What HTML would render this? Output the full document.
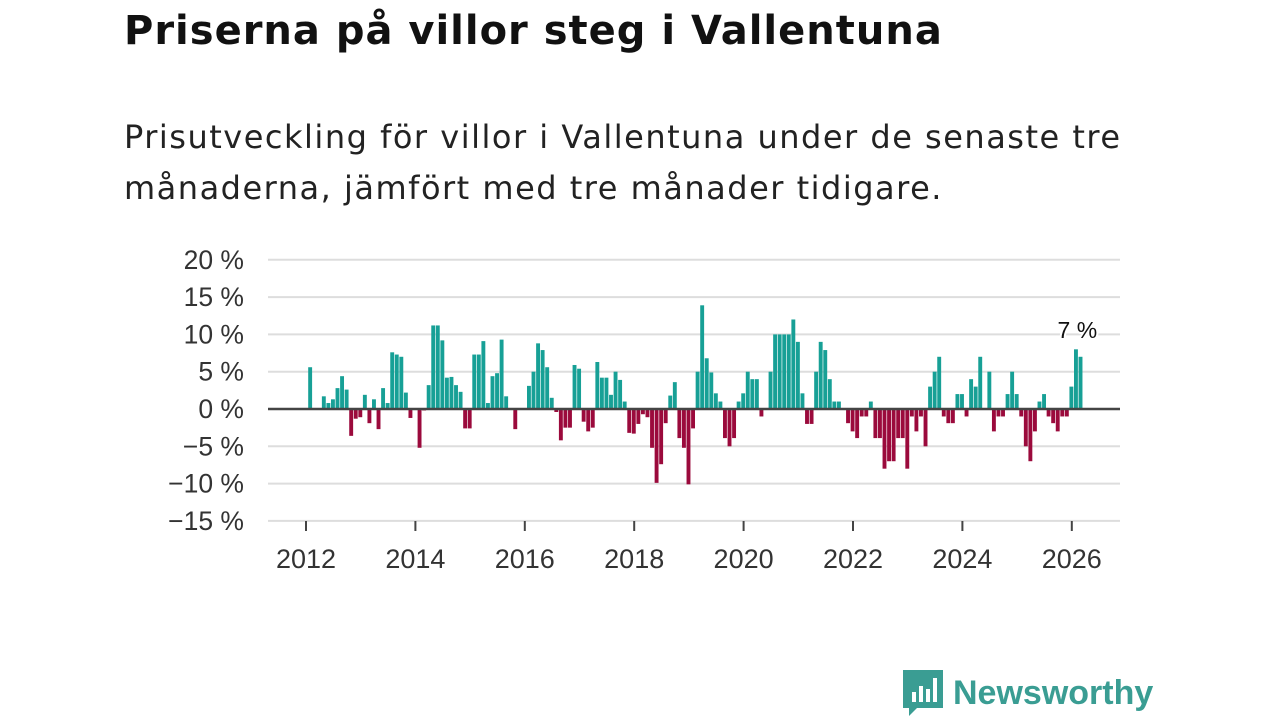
<!DOCTYPE html>
<html><head><meta charset="utf-8"><style>
body{margin:0;width:1280px;height:720px;background:#fff;font-family:"Liberation Sans",sans-serif;overflow:hidden;position:relative}
h1{position:absolute;left:124px;top:8px;margin:0;font-family:"DejaVu Sans",sans-serif;font-size:40px;font-weight:bold;color:#111;white-space:nowrap;letter-spacing:1px}
.sub{position:absolute;left:124px;top:112px;margin:0;font-family:"DejaVu Sans",sans-serif;font-size:32px;letter-spacing:1.5px;line-height:51px;color:#222;width:1050px}
</style></head><body>
<h1>Priserna på villor steg i Vallentuna</h1>
<p class="sub">Prisutveckling för villor i Vallentuna under de senaste tre månaderna, jämfört med tre månader tidigare.</p>
<svg id="chart" width="1280" height="720" style="position:absolute;left:0;top:0"></svg>
<div style="position:absolute;left:903px;top:670px;display:flex;align-items:center">
<svg width="40" height="46" viewBox="0 0 40 46"><path d="M0 0H40V38H14L6 46V38H0Z" fill="#3a9d93"/><rect x="9" y="22" width="4" height="10" fill="#fff"/><rect x="16" y="16" width="4" height="16" fill="#fff"/><rect x="23" y="19" width="4" height="13" fill="#fff"/><rect x="30" y="8" width="4" height="24" fill="#fff"/></svg>
<span style="font-size:34px;font-weight:bold;color:#3a9d93;margin-left:10px">Newsworthy</span></div>
<script>
const values=[5.6,0,0,1.7,0.8,1.3,2.8,4.4,2.6,-3.6,-1.3,-1.1,1.9,-1.9,1.3,-2.7,2.8,0.8,7.6,7.3,7.0,2.2,-1.2,0,-5.2,-0.2,3.2,11.2,11.2,9.2,4.2,4.3,3.2,2.3,-2.6,-2.6,7.3,7.3,9.1,0.8,4.4,4.8,9.3,1.7,0,-2.7,0,0,3.1,5.0,8.8,7.9,5.6,1.5,-0.4,-4.2,-2.5,-2.5,5.9,5.4,-1.7,-3.0,-2.5,6.3,4.2,4.2,1.9,5.0,3.9,1.0,-3.2,-3.3,-2.0,-0.7,-1.1,-5.2,-9.9,-7.4,-1.9,1.8,3.6,-3.9,-5.2,-10.1,-2.6,5.0,13.9,6.8,4.9,2.1,1.0,-3.9,-5.0,-3.9,1.0,2.1,5.0,4.0,4.0,-1.0,0,5.0,10,10,10,10,12,9,2.1,-2.0,-2.0,5.0,9.0,7.9,4.0,1.0,1.0,0,-1.9,-3.0,-3.9,-1.0,-1.0,1.0,-3.9,-3.9,-8,-7,-7,-3.9,-3.9,-8,-1,-3,-1,-5,3,5,7,-1,-1.9,-1.9,2,2,-1,4,3,7,0,5,-3,-1,-1,2,5,2,-1,-5,-7,-3,1,2,-1,-1.9,-3,-1,-1,3,8,7];
const yTicks=[20,15,10,5,0,-5,-10,-15];
const yearTicks=[2012,2014,2016,2018,2020,2022,2024,2026];
const startYear=2012;
const svg=document.getElementById('chart');
const NS='http://www.w3.org/2000/svg';
const y=v=>409-7.46*v;
const xm=m=>306+54.7*(m/12);
function mk(t,a){const e=document.createElementNS(NS,t);for(const k in a)e.setAttribute(k,a[k]);svg.appendChild(e);return e;}
yTicks.forEach(t=>{
  const g=mk('line',{x1:268,x2:1120,y1:y(t),y2:y(t),stroke:'#ddd','stroke-width':2});
  
  
  const l=mk('text',{x:244,y:y(t)+9,'text-anchor':'end','font-size':26.5,fill:'#333','font-family':'Liberation Sans'});
  l.textContent=(t<0?'−'+(-t):t)+' %';
  
  
});
yearTicks.forEach(yr=>{
  const x=xm((yr-startYear)*12);
  const t=mk('line',{x1:x,x2:x,y1:521,y2:531,stroke:'#444','stroke-width':2});
  
  
  const l=mk('text',{x:x,y:568,'text-anchor':'middle','font-size':27,fill:'#333','font-family':'Liberation Sans'});
  l.textContent=yr;
  
  
});
values.forEach((v,i)=>{
  if(v===0)return;
  const x=xm(i)+2.2;
  const r=mk('rect',{x:x,width:3.9,y:Math.min(y(v),y(0)),height:Math.abs(y(v)-y(0)),fill:v>0?'#17a096':'#9b0a3c'});
  
  
});
const z=mk('line',{x1:268,x2:1120,y1:y(0),y2:y(0),stroke:'#444','stroke-width':2.5});


const last=values.length-1;
const lb=mk('text',{x:xm(last)+1,y:338,'text-anchor':'middle','font-size':23,fill:'#111','font-family':'Liberation Sans',stroke:'#fff','stroke-width':4,'paint-order':'stroke'});
lb.textContent=values[last]+' %';


</script>
</body></html>
